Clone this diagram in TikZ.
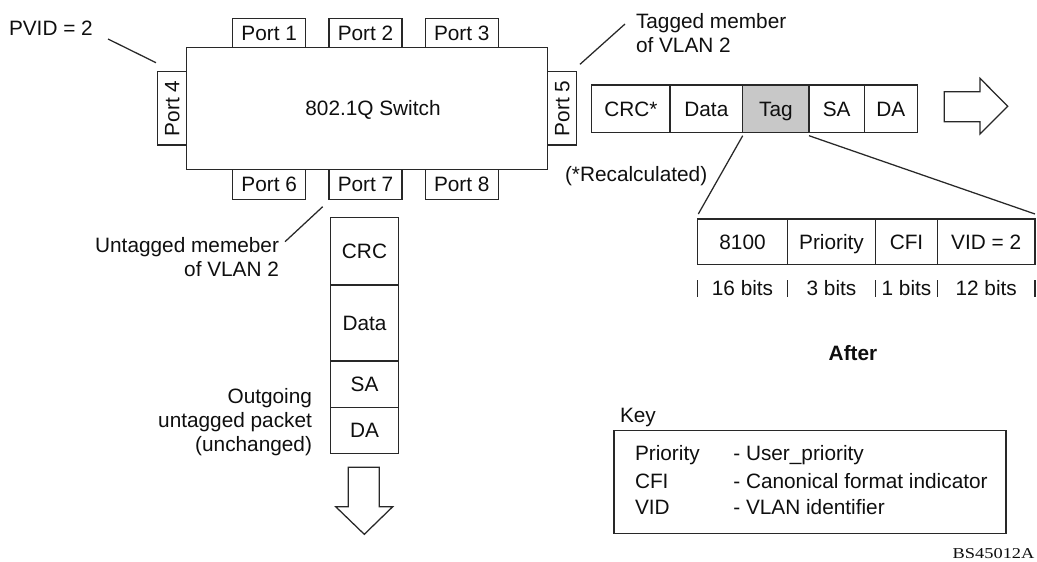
\documentclass[tikz,border=0pt]{standalone}
\usepackage{graphicx}
\usepackage{fontspec}
\setmainfont{Liberation Sans}
\newfontfamily\idfont{Liberation Serif}
\definecolor{tagfill}{RGB}{200,200,200}
\definecolor{ink}{RGB}{40,40,40}
\definecolor{txt}{RGB}{15,15,15}
% \rbox[style]{name}{x1}{y1}{x2}{y2}{text}
\newcommand\rbox[7][cell]{%
  \pgfmathsetmacro\rbcx{(#3+#5)/2}%
  \pgfmathsetmacro\rbcy{(#4+#6)/2}%
  \pgfmathsetmacro\rbw{(#5-#3)*0.75}%
  \pgfmathsetmacro\rbh{(#6-#4)*0.75}%
  \node[#1, minimum width=\rbw pt, minimum height=\rbh pt] (#2) at (\rbcx,\rbcy) {#7};%
}
\begin{document}
\begin{tikzpicture}[x=0.75pt,y=-0.75pt,
  every node/.style={inner sep=0pt, outer sep=0pt, font=\fontsize{15.6}{18}\selectfont, text=txt},
  t/.style={text height=11.1pt, text depth=0pt},
  box/.style={draw=ink, line width=0.95pt, fill=white},
  cell/.style={box, t},
  ln/.style={draw=ink, line width=0.95pt},
  bigarrow/.style={draw=ink, line width=0.95pt, fill=white, line join=miter}
]
\useasboundingbox (0,0) rectangle (1037,561);

% switch and ports
\rbox[box]{sw}{186.7}{47.3}{547.7}{169.3}{}
\node[t] (swt) at (373,108.3) {802.1Q Switch};
\rbox{p1}{232.7}{18.3}{305.7}{47.3}{Port 1}
\rbox{p2}{329}{18.3}{402}{47.3}{Port 2}
\rbox{p3}{425.3}{18.3}{498.3}{47.3}{Port 3}
\rbox{p6}{232.7}{169.3}{305.7}{199.3}{Port 6}
\rbox{p7}{329}{169.3}{402}{199.3}{Port 7}
\rbox{p8}{425.3}{169.3}{498.3}{199.3}{Port 8}
\rbox[box]{p4}{157.7}{71.7}{186.7}{145}{\rotatebox{90}{Port 4}}
\rbox[box]{p5}{547.7}{71.7}{576.7}{145}{\rotatebox{90}{Port 5}}

% labels and leader lines
\node[t, anchor=west] (pvid) at (9,28.3) {PVID = 2};
\coordinate (pv1) at (108,39);
\coordinate (pv2) at (156,62.7);
\draw[ln] (pv1) -- (pv2);

\node[anchor=west, align=left] (tagm) at (636,32.9) {Tagged member\\of VLAN 2};
\coordinate (tm1) at (580,64.3);
\coordinate (tm2) at (625,24);
\draw[ln] (tm1) -- (tm2);

\node[anchor=east, align=right] (untm) at (279,257) {Untagged memeber\\of VLAN 2};
\coordinate (um1) at (322.7,206.7);
\coordinate (um2) at (285,241.7);
\draw[ln] (um1) -- (um2);

% tagged frame
\rbox{crc}{591.7}{85}{670}{132.3}{CRC*}
\rbox{data}{670}{85}{742.7}{132.3}{Data}
\rbox[cell, fill=tagfill]{tag}{742.7}{85}{809}{132.3}{Tag}
\rbox{sa}{809}{85}{864.3}{132.3}{SA}
\rbox{da}{864.3}{85}{917.3}{132.3}{DA}
\draw[bigarrow] (944.3,91.7) -- (980,91.7) -- (980,78.3) -- (1007.7,106.3)
  -- (980,134) -- (980,121.7) -- (944.3,121.7) -- cycle;

\node[t, anchor=west] (recalc) at (565,174) {(*Recalculated)};

% tag breakdown
\rbox{f1}{697.7}{219}{787.3}{264.3}{8100}
\rbox{f2}{787.3}{219}{875.7}{264.3}{Priority}
\rbox{f3}{875.7}{219}{937.3}{264.3}{CFI}
\rbox{f4}{937.3}{219}{1035}{264.3}{VID = 2}
\coordinate (tl1) at (742.7,135.7);
\coordinate (tl2) at (698.3,214);
\coordinate (tr1) at (809,135.7);
\coordinate (tr2) at (1035,214);
\draw[ln] (tl1) -- (tl2);
\draw[ln] (tr1) -- (tr2);

\foreach \bx in {697.7,787.3,875.7,937.3,1035}
  \draw[ln] (\bx,280) -- (\bx,296.7);
\node[t] (b1) at (742.5,288.3) {16 bits};
\node[t] (b2) at (831.5,288.3) {3 bits};
\node[t] (b3) at (906.5,288.3) {1 bits};
\node[t] (b4) at (986.2,288.3) {12 bits};

\node[t, font={\fontsize{15.6}{18}\selectfont\bfseries}] (after) at (853,353) {After};

% untagged outgoing packet
\rbox{vcrc}{330.7}{217.3}{398.3}{285}{CRC}
\rbox{vdata}{330.7}{285}{398.3}{361}{Data}
\rbox{vsa}{330.7}{361}{398.3}{407.7}{SA}
\rbox{vda}{330.7}{407.7}{398.3}{453.3}{DA}
\node[anchor=east, align=right] (outg) at (312,422.5) {Outgoing\\untagged packet\\(unchanged)};
\draw[bigarrow] (348.3,467.3) -- (379.3,467.3) -- (379.3,506.7) -- (392.7,506.7)
  -- (364.3,534.3) -- (335.7,506.7) -- (348.3,506.7) -- cycle;

% key
\node[t, anchor=west] (keyt) at (620,415.5) {Key};
\rbox[box]{key}{614}{430.7}{1006}{533.3}{}
\node[t, anchor=west] (k1) at (635,453.3) {Priority};
\node[t, anchor=west] (k2) at (635,481) {CFI};
\node[t, anchor=west] (k3) at (635,506.7) {VID};
\node[t, anchor=west] (d1) at (733.3,453.3) {- User\_priority};
\node[t, anchor=west] (d2) at (733.3,481) {- Canonical format indicator};
\node[t, anchor=west] (d3) at (733.3,506.7) {- VLAN identifier};

\node[anchor=west, font={\idfont\fontsize{11.3}{13}\selectfont}, text height=7.5pt, text depth=0pt] (bsid) at (952.7,553.3) {\scalebox{1.22}[1]{BS45012A}};
\end{tikzpicture}
\end{document}
